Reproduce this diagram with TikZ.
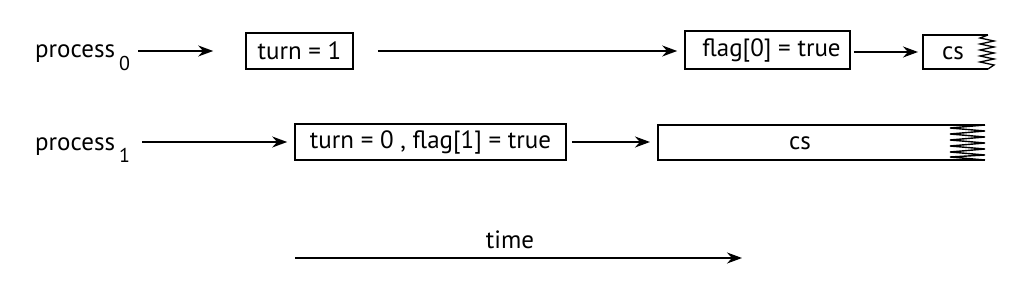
\documentclass[tikz,border=0pt]{standalone}
\usepackage{fontspec}
\setmainfont{PT Sans}
\usetikzlibrary{arrows.meta}
\begin{document}
\begin{tikzpicture}[x=1pt,y=-1pt,
  every node/.style={font=\fontsize{25}{27}\selectfont, inner sep=0pt},
  arr/.style={line width=1.6pt, -{Stealth[length=15pt,width=11pt]}},
  boxed/.style={draw, line width=1.6pt, anchor=center},
  edge/.style={line width=1.6pt, line join=miter}]
\useasboundingbox (0,0) rectangle (1024,291);
\fill[white] (0,0) rectangle (1024,291);
% row 0
\node[anchor=base west] (p0) at (35,58) {process\,\raisebox{-0.5em}{\fontsize{20}{20}\selectfont 0}};
\node[boxed, minimum width=107pt, minimum height=36pt] (t1) at (299.5,51) {turn = 1};
\node[boxed, minimum width=165pt, minimum height=38pt] (f0) at (767.5,50) {\hspace{8pt}flag[0] = true};
\coordinate (c0w) at (923,52);
\node (cs0) at (953,53) {cs};
\draw[edge] (988,35) -- (923,35) -- (923,69) -- (988,69);
\draw[edge, line width=1.3pt] (988,35) -- (980,38) -- (994,41) -- (980,44) -- (994,47) -- (980,50) -- (994,53) -- (980,56) -- (994,59) -- (980,62) -- (994,65) -- (988,69);
\draw[arr] ([xshift=8pt]p0.east |- t1.west) -- ([xshift=-32pt]t1.west);
\draw[arr] ([xshift=24pt]t1.east) -- ([xshift=-7pt]f0.west |- t1.west);
\draw[arr] ([xshift=3pt]f0.east |- c0w) -- ([xshift=-5pt]c0w);
% row 1
\node[anchor=base west] (p1) at (35,150) {process\,\raisebox{-0.5em}{\fontsize{20}{20}\selectfont 1}};
\node[boxed, minimum width=271pt, minimum height=36pt] (t0) at (430.5,142) {turn = 0 , flag[1] = true};
\coordinate (c1w) at (658,142);
\node (cs1) at (800,143) {cs};
\draw[edge] (985,125) -- (658,125) -- (658,160) -- (985,160);
\draw[edge, line width=1.4pt] (985,125) -- (950,128) -- (985,131) -- (950,134) -- (985,137) -- (950,140) -- (985,143) -- (950,146) -- (985,149) -- (950,152) -- (985,155) -- (950,157) -- (985,160);
\draw[arr] ([xshift=12pt]p1.east |- t0.west) -- ([xshift=-7pt]t0.west);
\draw[arr] ([xshift=5pt]t0.east) -- ([xshift=-8pt]c1w);
% time
\coordinate (ts) at (295,258);
\coordinate (te) at (742,258);
\node (tl) at (510,240) {time};
\draw[arr] (ts) -- (te);
\end{tikzpicture}
\end{document}
